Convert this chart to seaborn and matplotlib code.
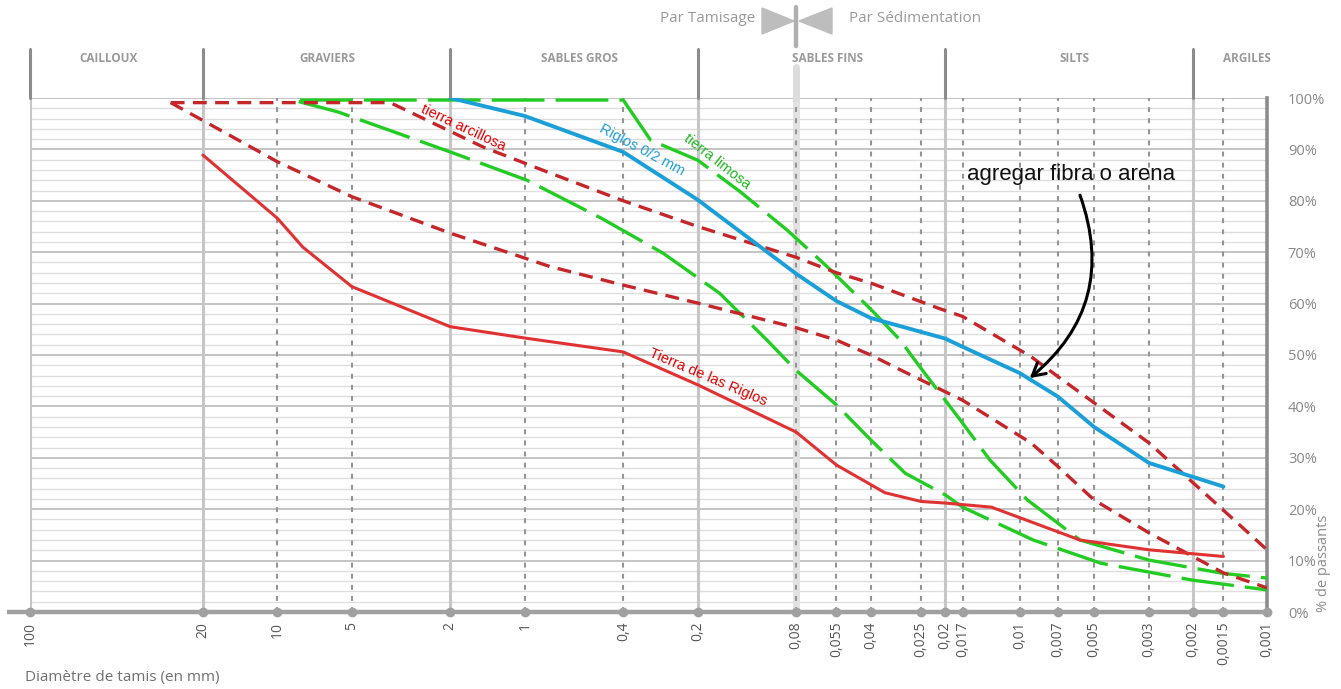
import numpy as np
import pandas as pd
import matplotlib
matplotlib.use("Agg")
import matplotlib.pyplot as plt
import matplotlib.transforms as mtransforms
from matplotlib.patches import Polygon
import seaborn as sns

## sieve sizes (mm) shown on the axis, and soil classes
tick_mm = [100, 20, 10, 5, 2, 1, 0.4, 0.2, 0.08, 0.055, 0.04, 0.025, 0.02, 0.017,
           0.01, 0.007, 0.005, 0.003, 0.002, 0.0015, 0.001]
solid_mm = [100, 20, 2, 0.2, 0.02, 0.002]
class_names = ['CAILLOUX', 'GRAVIERS', 'SABLES GROS', 'SABLES FINS', 'SILTS', 'ARGILES']
class_mm = [48, 6.3, 0.6, 0.06, 0.006, 0.0012]
pct_ticks = list(range(0, 101, 10))

## curves
riglos_mm = [20, 10, 7.9, 5, 2, 1, 0.4, 0.2, 0.08, 0.055, 0.035, 0.025, 0.02, 0.013, 0.0057, 0.003, 0.0015]
riglos_pct = [88.9, 76.6, 71, 63.3, 55.5, 53.3, 50.6, 44.2, 35, 28.6, 23.2, 21.5, 21.2, 20.4, 14.0, 12.1, 10.8]

riglos02_mm = [2, 1, 0.4, 0.2, 0.08, 0.055, 0.04, 0.02, 0.017, 0.01, 0.007, 0.005, 0.003, 0.0015]
riglos02_pct = [100, 96.5, 89.5, 80.2, 65.8, 60.5, 57.2, 53.2, 51.6, 46.5, 41.9, 36, 29, 24.4]

limosa_hi_mm = [8.1, 0.4, 0.31, 0.2, 0.135, 0.087, 0.06, 0.039, 0.0304, 0.0253, 0.0174, 0.0132, 0.0093, 0.0057, 0.003, 0.0015, 0.001]
limosa_hi_pct = [99.6, 99.6, 91.8, 87.9, 81.8, 74.3, 67.2, 58.4, 52.9, 47.7, 37.4, 29.6, 21.8, 14, 10.1, 7.5, 6.6]

limosa_lo_mm = [8.2, 5.7, 2, 0.98, 0.49, 0.276, 0.163, 0.105, 0.08, 0.055, 0.04, 0.029, 0.02, 0.017, 0.0088, 0.0047, 0.002, 0.001]
limosa_lo_pct = [99.3, 97.3, 89.5, 84, 76.6, 69.8, 62, 52.9, 47, 40.3, 33.5, 27, 22.8, 20.4, 14, 9.5, 6.2, 4.3]

arcillosa_hi_mm = [27, 3.5, 1.48, 0.79, 0.4, 0.2, 0.08, 0.055, 0.04, 0.021, 0.017, 0.009, 0.007, 0.005, 0.003, 0.0015, 0.001]
arcillosa_hi_pct = [99.1, 99.1, 90.5, 85.4, 80, 75, 69, 66, 64, 59, 57.5, 49.7, 45.8, 40.7, 32.9, 19.8, 12.1]

arcillosa_lo_mm = [27, 10, 5, 2, 0.79, 0.4, 0.2, 0.08, 0.055, 0.04, 0.03, 0.017, 0.009, 0.007, 0.005, 0.003, 0.0015, 0.001]
arcillosa_lo_pct = [99.1, 87.6, 80.8, 73.7, 67.2, 63.6, 60.1, 55.3, 52.9, 50, 47, 41.2, 32.9, 28.3, 21.8, 15.4, 7.6, 4.7]

sns.set_style("white")
plt.rcParams['font.family'] = ['Open Sans', 'DejaVu Sans']
plt.rcParams['lines.scale_dashes'] = False

fig = plt.figure(figsize=(13.41, 6.89), dpi=100)
ax = fig.add_axes([30/1341, 1-612/689, 1237/1341, 514/689])
ax.set_xscale('log')
ax.set_xlim(100, 0.001)
ax.set_ylim(0, 100)

## grid
for p in range(2, 101, 2):
    if p % 10 == 0:
        ax.axhline(p, color='#c4c4c4', lw=1.4, zorder=1)
    else:
        ax.axhline(p, color='#dedede', lw=1.0, zorder=1)
for d in tick_mm:
    if d in solid_mm:
        ax.axvline(d, color='#c6c6c6', lw=2.2, zorder=1)
    elif d == 0.08:
        ax.axvline(d, color='#e2e2e2', lw=5, zorder=1)
        ax.axvline(d, color='#949494', lw=1.5, dashes=(3.5, 4.5), zorder=1)
    elif d != 0.001:
        ax.axvline(d, color='#949494', lw=1.5, dashes=(3.5, 4.5), zorder=1)

## class separators and names above the plot
blend = mtransforms.blended_transform_factory(ax.transData, ax.transAxes)
for d in solid_mm:
    ax.plot([d, d], [1.0, 1.095], transform=blend, color='#8c8c8c', lw=2.2, clip_on=False)
ax.plot([0.08, 0.08], [1.0, 1.06], transform=blend, color='#dcdcdc', lw=5, clip_on=False)
for name, d in zip(class_names, class_mm):
    ax.text(d, 1.076, name, transform=blend, ha='center', va='center',
            fontsize=8.5, fontweight='bold', color='#9a9a9a')

## curves
sns.lineplot(x=riglos_mm, y=riglos_pct, sort=False, estimator=None, ax=ax,
             color='#e03232', lw=2.2, zorder=5)
sns.lineplot(x=riglos02_mm, y=riglos02_pct, sort=False, estimator=None, ax=ax,
             color='#1b9fd8', lw=2.8, zorder=5)
for xs, ys in [(limosa_hi_mm, limosa_hi_pct), (limosa_lo_mm, limosa_lo_pct)]:
    sns.lineplot(x=xs, y=ys, sort=False, estimator=None, ax=ax,
                 color='#22cc22', lw=2.4, zorder=4)
    ax.lines[-1].set_dashes((38, 8))
for xs, ys in [(arcillosa_hi_mm, arcillosa_hi_pct), (arcillosa_lo_mm, arcillosa_lo_pct)]:
    sns.lineplot(x=xs, y=ys, sort=False, estimator=None, ax=ax,
                 color='#c4262a', lw=2.4, zorder=4)
    ax.lines[-1].set_dashes((10, 6))

## curve labels
lab = dict(family=['Liberation Sans', 'DejaVu Sans'], fontsize=10.5,
           ha='center', va='center', rotation_mode='anchor', zorder=6)
ax.text(1.78, 94.2, 'tierra arcillosa', color='#e00000', rotation=-25, **lab)
ax.text(0.336, 89.9, 'Riglos 0/2 mm', color='#1b9fd8', rotation=-28, **lab)
ax.text(0.167, 87.7, 'tierra limosa', color='#1fb81f', rotation=-38, **lab)
ax.text(0.1815, 45.7, 'Tierra de las Riglos', color='#e00000', rotation=-23, **lab)

ax.annotate('', xy=(0.0091, 45.5), xytext=(0.0057, 81.1),
            arrowprops=dict(arrowstyle='->,head_length=0.9,head_width=0.5', color='black',
                            lw=2.2, connectionstyle='arc3,rad=-0.35', shrinkA=0, shrinkB=0),
            zorder=7)
ax.text(0.0062, 85.2, 'agregar fibra o arena', family=['Liberation Sans', 'DejaVu Sans'],
        fontsize=16, ha='center', va='center', color='#111111', zorder=7)

## axes decoration
for s in ['top', 'left', 'bottom']:
    ax.spines[s].set_visible(False)
ax.spines['right'].set_color('#8c8c8c')
ax.spines['right'].set_linewidth(2.6)
ax.plot([124, 0.001], [0, 0], color='#a0a0a0', lw=3.2, clip_on=False, zorder=3,
        solid_capstyle='butt')
ax.plot(tick_mm, [0] * len(tick_mm), 'o', color='#a0a0a0', ms=6, clip_on=False, zorder=3)

ax.set_xticks(tick_mm)
ax.set_xticklabels([('%g' % d).replace('.', ',') for d in tick_mm],
                   rotation=90, fontsize=10, color='#555555')
ax.xaxis.set_minor_locator(matplotlib.ticker.NullLocator())
ax.yaxis.tick_right()
ax.set_yticks(pct_ticks)
ax.set_yticklabels(['%d%%' % p for p in pct_ticks], fontsize=10.5, color='#888888')
ax.tick_params(axis='x', length=0, pad=7)
ax.tick_params(axis='y', length=0, pad=15)
ax.set_xlabel('')
ax.set_ylabel('')

## top annotations in pixel coordinates
ov = fig.add_axes([0, 0, 1, 1], zorder=-1)
ov.set_xlim(0, 1341)
ov.set_ylim(689, 0)
ov.axis('off')
ov.add_patch(Polygon([[762, 8], [762, 34], [794, 21]], closed=True, color='#bdbdbd'))
ov.add_patch(Polygon([[832, 8], [832, 34], [799, 21]], closed=True, color='#bdbdbd'))
ov.plot([796.5, 796.5], [7, 46], color='#b0b0b0', lw=3.2)
ov.text(755, 19, 'Par Tamisage', ha='right', va='center', fontsize=11, color='#9a9a9a')
ov.text(849, 19, 'Par Sédimentation', ha='left', va='center', fontsize=11, color='#9a9a9a')
ov.text(1331, 612, '% de passants', rotation=90, ha='right', va='bottom',
        fontsize=10.5, color='#8c8c8c')
ov.text(25, 677, 'Diamètre de tamis (en mm)', ha='left', va='center',
        fontsize=11, color='#707070')

fig.savefig('out.png', dpi=100)
